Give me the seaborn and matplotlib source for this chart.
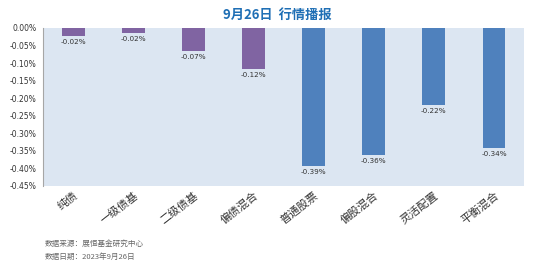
import matplotlib
matplotlib.use("Agg")
import matplotlib.pyplot as plt
import seaborn as sns
import pandas as pd
from matplotlib.ticker import FuncFormatter

categories = ["纯债", "一级债基", "二级债基", "偏债混合", "普通股票", "偏股混合", "灵活配置", "平衡混合"]
values = [-0.023, -0.015, -0.065, -0.117, -0.392, -0.362, -0.219, -0.342]
labels = ["-0.02%", "-0.02%", "-0.07%", "-0.12%", "-0.39%", "-0.36%", "-0.22%", "-0.34%"]
groups = ["债", "债", "债", "债", "股", "股", "股", "股"]
palette = {"债": "#8064A2", "股": "#4F81BD"}

sns.set_theme(style="white")
plt.rcParams['font.family'] = ['Noto Sans CJK SC', 'DejaVu Sans']

df = pd.DataFrame({"cat": categories, "val": values, "grp": groups})

fig = plt.figure(figsize=(5.54, 2.66), dpi=100)
ax = fig.add_axes([0.078, 0.301, 0.868, 0.594])
ax.set_facecolor("#DCE6F2")
sns.barplot(data=df, x="cat", y="val", hue="grp", palette=palette, dodge=False,
            width=0.38, legend=False, ax=ax, order=categories, saturation=1,
            linewidth=0)

ax.set_ylim(-0.45, 0)
ax.set_xlim(-0.5, 7.5)
ax.set_yticks([-0.45 + 0.05 * i for i in range(10)])
ax.yaxis.set_major_formatter(FuncFormatter(lambda v, p: f"{v:.2f}%"))
ax.tick_params(axis="y", labelsize=5.5, colors="#333333", length=0, pad=5)
ax.tick_params(axis="x", length=0, pad=3)
for t in ax.get_yticklabels():
    t.set_family(['DejaVu Sans'])
ax.set_xticks(range(len(categories)))
ax.set_xticklabels(categories, rotation=38, ha="right", rotation_mode="anchor",
                   fontsize=8, color="#333333", style="italic")
ax.set_xlabel("")
ax.set_ylabel("")
for s in ["top", "right", "bottom"]:
    ax.spines[s].set_visible(False)
ax.spines["left"].set_color("#A6A6A6")
ax.spines["left"].set_linewidth(0.8)

for i, (v, lab) in enumerate(zip(values, labels)):
    ax.text(i, v - 0.009, lab, ha="center", va="top", fontsize=5.2, color="#333333",
            family=['DejaVu Sans'])

fig.text(0.5, 0.945, "9月26日  行情播报", ha="center", va="center", fontsize=9.5,
         fontweight="bold", color="#1F6FB5")
fig.text(0.081, 0.085, "数据来源：展恒基金研究中心", fontsize=5.5, color="#666666", va="center")
fig.text(0.081, 0.035, "数据日期：2023年9月26日", fontsize=5.5, color="#666666", va="center")

fig.savefig("out.png", dpi=100)
